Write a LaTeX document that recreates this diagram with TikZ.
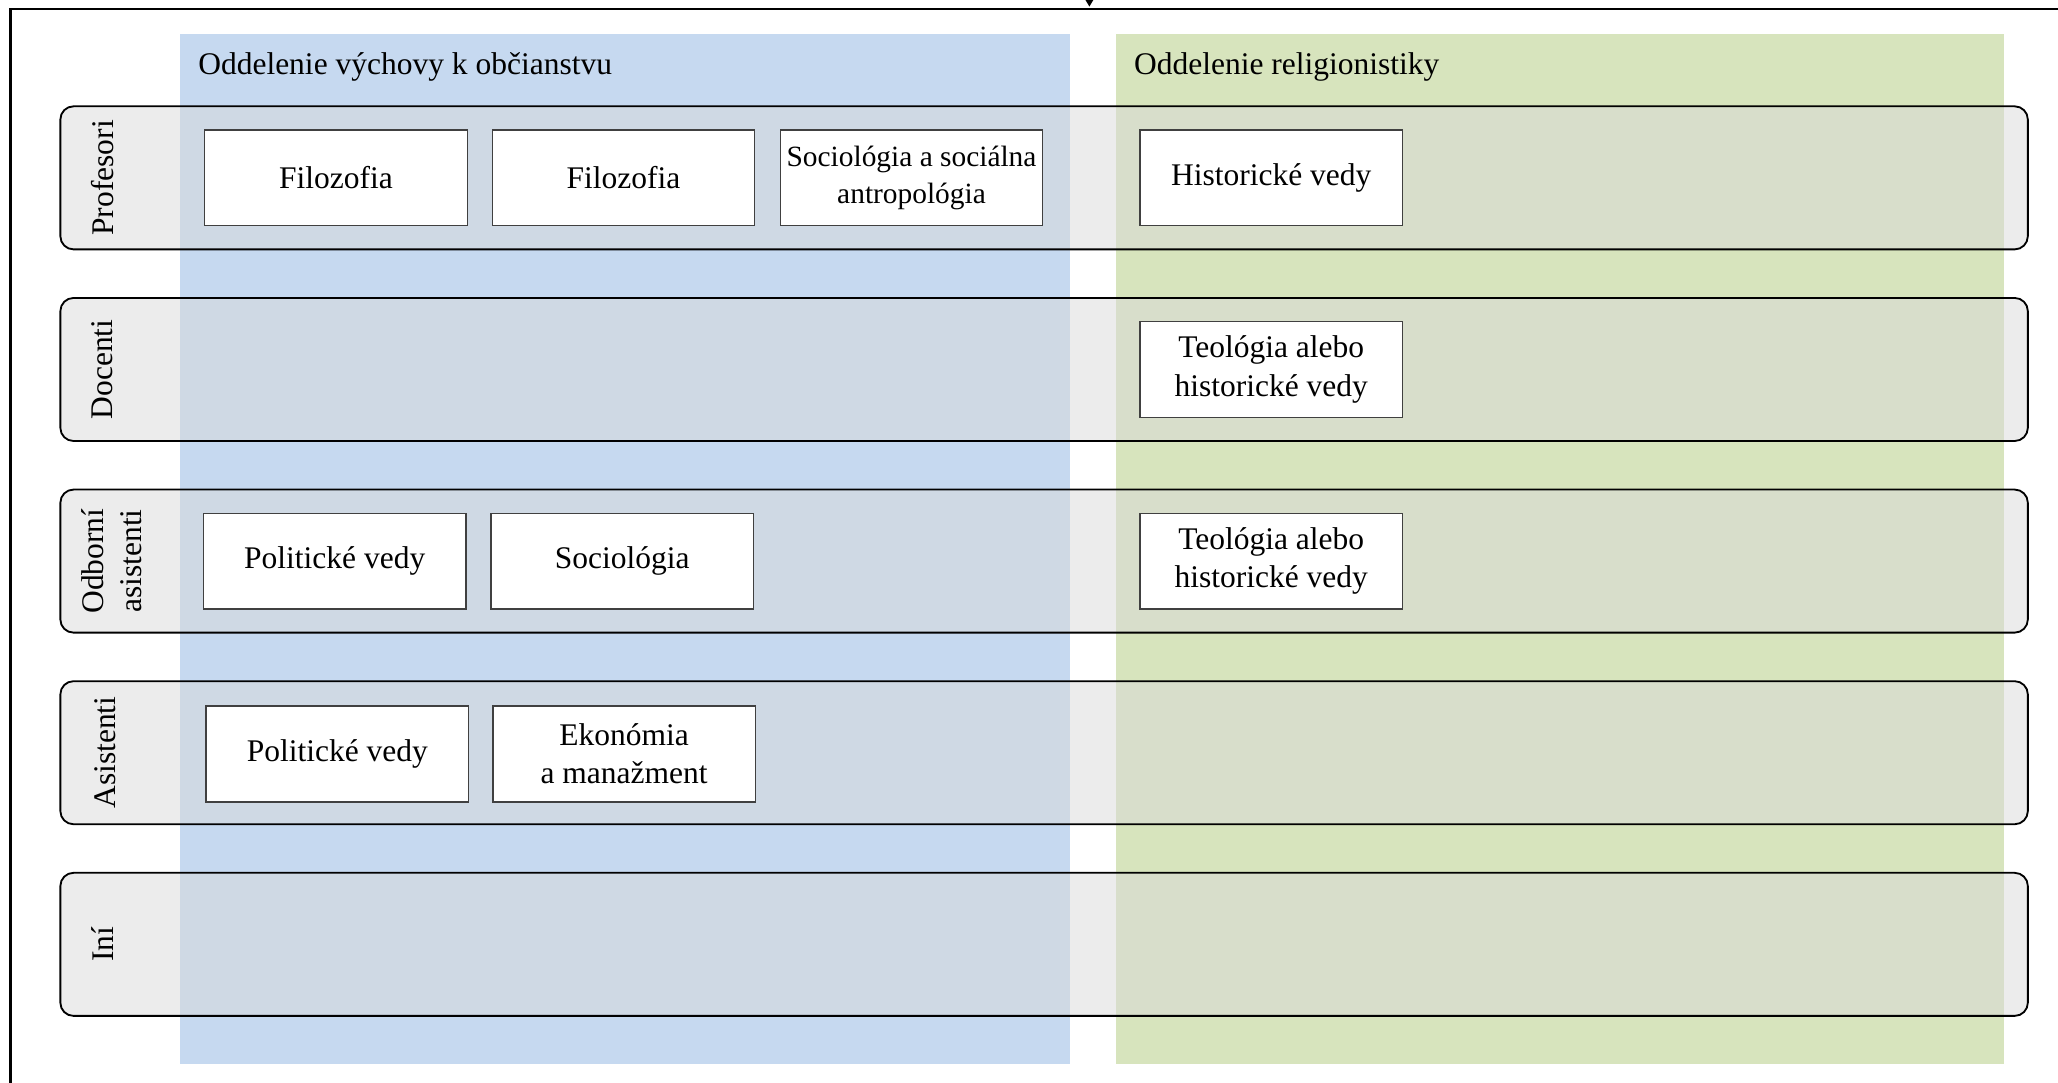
\documentclass[tikz,border=0pt]{standalone}
\usepackage{fontspec}
\setmainfont{Liberation Serif}
\definecolor{colblue}{RGB}{198,217,240}
\definecolor{colgreen}{RGB}{215,228,189}
\definecolor{lanegray}{RGB}{217,217,217}
\definecolor{boxline}{RGB}{64,64,64}

\begin{document}
\begin{tikzpicture}[x=0.5pt,y=-0.5pt,
    font=\fontsize{12}{14.5}\selectfont,
    lane/.style={draw=black,line width=0.7pt,rounded corners=5pt,fill=lanegray,fill opacity=0.5},
    unit/.style={draw=boxline,line width=0.5pt,fill=white,minimum width=100pt,minimum height=36.5pt,inner sep=1pt,align=center},
    lanelbl/.style={rotate=90,align=center,inner sep=1pt},
    head/.style={anchor=west}]
  \useasboundingbox (0,0) rectangle (1568,825);
  % frame
  \draw[line width=0.8pt] (8,825) -- (8,7) -- (1568,7);
  \fill (827,0) -- (833,0) -- (830,5) -- cycle;
  % departments
  \fill[colblue] (137,26) rectangle (815,811);
  \fill[colgreen] (850,26) rectangle (1527,811);
  \node[head] (dobc) at (144,51) {Oddelenie výchovy k občianstvu};
  \node[head] (drel) at (857,51) {Oddelenie religionistiky};
  % lanes
  \foreach \n/\t/\lx [count=\i] in {prof/Profesori/78,doc/Docenti/78,oa/{Odborní\\asistenti}/85,as/Asistenti/80,ini/Iní/78}{
    \draw[lane] (46,{81+146*(\i-1)}) rectangle (1545,{190+146*(\i-1)});
    \node[lanelbl] (\n) at (\lx,{135.5+146*(\i-1)}) {\t};
  }
  % Profesori
  \node[unit] (pfil1) at (256,135.5) {Filozofia};
  \node[unit] (pfil2) at (475,135.5) {Filozofia};
  \node[unit,font=\fontsize{11.2}{14}\selectfont] (psoc) at (694.5,135.5) {Sociológia a sociálna\\antropológia};
  \node[unit] (phist) at (968.5,135.5) {Historické vedy};
  % Docenti
  \node[unit] (dteo)  at (968.5,281.5) {Teológia alebo\\historické vedy};
  % Odborni asistenti
  \node[unit] (opol)  at (255,427.5) {Politické vedy};
  \node[unit] (osoc)  at (474,427.5) {Sociológia};
  \node[unit] (oteo)  at (968.5,427.5) {Teológia alebo\\historické vedy};
  % Asistenti
  \node[unit] (apol)  at (257,574.5) {Politické vedy};
  \node[unit] (aeko)  at (475.5,574.5) {Ekonómia\\a manažment};
\end{tikzpicture}
\end{document}
